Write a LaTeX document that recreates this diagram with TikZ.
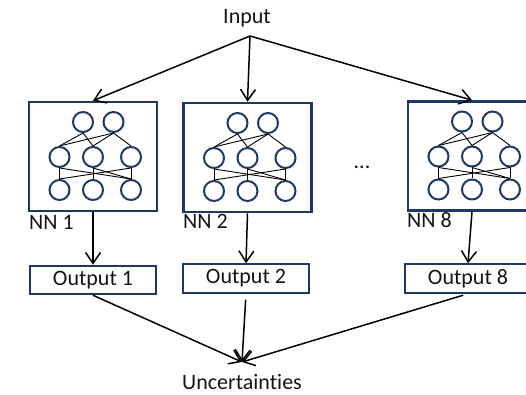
\documentclass[tikz,border=0pt]{standalone}
\usepackage{fontspec}
\setmainfont{Carlito}[Ligatures=NoCommon]
\usetikzlibrary{arrows.meta}
\definecolor{navy}{RGB}{31,56,100}
\definecolor{ink}{RGB}{20,20,20}
\tikzset{
  lbl/.style={font=\fontsize{22}{26}\selectfont, text=ink, inner sep=0pt, anchor=base},
  netbox/.style={draw=navy, line width=2.6pt, minimum width=128pt, minimum height=109pt, inner sep=0pt},
  outbox/.style={draw=navy, line width=2pt, minimum width=126pt, minimum height=28.5pt, inner sep=0pt,
                 text=ink, font=\fontsize{22}{26}\selectfont},
  neuron/.style={circle, draw=navy, line width=2pt, fill=white, minimum size=20pt, inner sep=0pt},
  link/.style={line width=0.9pt, black},
  flow/.style={line width=1.5pt, -{Straight Barb[length=11pt,width=15pt,line width=1.5pt]}},
  netpic/.pic={
    % three layers of neurons
    \foreach \n/\x/\y in {t1/-10/-34.5, t2/20.5/-34.5,
                          m1/-33.5/0.5, m2/0/0.5, m3/38/0.5,
                          b1/-33.5/33.5, b2/0/33.5, b3/38/33.5}
      \node[neuron] (-\n) at (\x,\y) {};
    % weights between the layers
    \draw[link] (-t1.south) -- (-m1.north);
    \draw[link] (-t1.south) -- (-m2.north);
    \draw[link] (-t2.south) -- (-m1.north);
    \draw[link] (-t2.south) -- (-m2.north);
    \draw[link] (-t2.south) -- (-m3.north);
    \draw[link] (-m1.south) -- (-b1.north);
    \draw[link] (-m1.south) -- (-b3.north);
    \draw[link] (-m2.south) -- (-b2.north);
    \draw[link] (-m2.south) -- (-b3.north);
    \draw[link] (-m3.south) -- (-b3.north);
    \draw[link] (-m3.south) -- (-b1.north);
  }
}
\begin{document}
\begin{tikzpicture}[x=1pt, y=-1pt]
  \useasboundingbox (0,0) rectangle (526,395);
  \clip (0,0) rectangle (526,395);

  % input and the fork point of its three arrows
  \node[lbl] (in) at (247,24) {Input};
  \coordinate (fork) at (250,36);

  % the three networks
  \node[netbox] (nn1) at (93,156.5) {};
  \node[netbox] (nn2) at (247.5,157.5) {};
  \node[netbox] (nn8) at (472,156) {};
  \pic (n1) at (nn1.center) {netpic};
  \pic (n2) at (nn2.center) {netpic};
  \pic (n8) at (nn8.center) {netpic};

  \node[lbl, anchor=base west] (l1) at (29,229) {NN 1};
  \node[lbl, anchor=base west] (l2) at (183,228) {NN 2};
  \node[lbl, anchor=base west] (l8) at (407,227) {NN 8};
  \node[lbl] (dots) at (362,169) {...};

  % outputs
  \node[outbox] (o1) at (93,280) {Output 1};
  \node[outbox] (o2) at (246,278.5) {Output 2};
  \node[outbox] (o8) at (468,278.5) {Output 8};

  \node[lbl] (unc) at (242,389) {Uncertainties};
  \coordinate (merge) at (242,362);

  % connectors
  \draw[flow] (fork) -- (nn1.north);
  \draw[flow] (fork) -- (nn2.north);
  \draw[flow] (fork) -- (nn8.north);
  \draw[flow] (nn1.south) -- (o1.north);
  \draw[flow] (nn2.south) -- (o2.north);
  \draw[flow] (nn8.south) -- (o8.north);
  \draw[flow] (o1.south) -- (merge);
  \draw[flow, shorten <=6pt] (o2.south) -- (merge);
  \draw[flow, shorten <=5pt] (o8.south) -- (merge);
\end{tikzpicture}
\end{document}
